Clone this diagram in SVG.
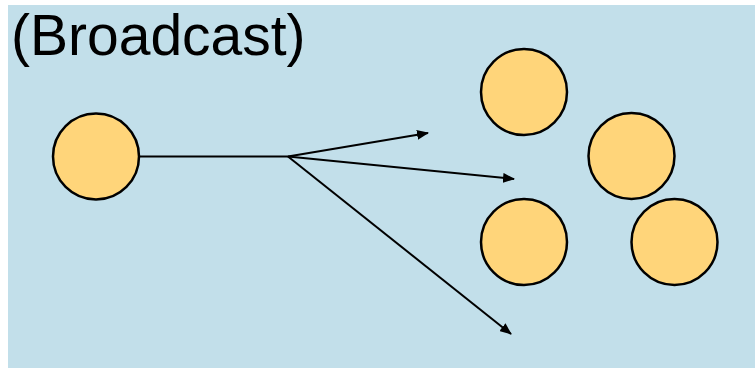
<svg xmlns="http://www.w3.org/2000/svg" width="755" height="368" viewBox="0 0 755 368">
  <style>
    .node { fill: #FFD57A; stroke: #000; stroke-width: 2.5; }
    .edge { fill: none; stroke: #000; stroke-width: 2; }
    .title { font-family: "Liberation Sans", Arial, sans-serif; font-size: 57px; fill: #000; }
  </style>
  <defs>
    <marker id="arrow" viewBox="0 0 12 10" refX="11" refY="5" markerWidth="12" markerHeight="10" markerUnits="userSpaceOnUse" orient="auto">
      <path d="M0,0 L12,5 L0,10 Z" fill="#000"/>
    </marker>
  </defs>

  <!-- panel background -->
  <rect x="8" y="5" width="747" height="363" fill="#C2DFEA"/>

  <text class="title" x="11" y="55">(Broadcast)</text>

  <!-- connectors: trunk from the sender, fanning out into three arrows -->
  <g id="connectors">
    <line class="edge" x1="139" y1="156.5" x2="288" y2="156.5"/>
    <line class="edge" x1="288" y1="156.5" x2="428" y2="133" marker-end="url(#arrow)"/>
    <line class="edge" x1="288" y1="156.5" x2="514" y2="179" marker-end="url(#arrow)"/>
    <line class="edge" x1="288" y1="156.5" x2="511" y2="334" marker-end="url(#arrow)"/>
  </g>

  <g id="sender"><circle class="node" cx="96" cy="156.5" r="43"/></g>
  <g id="receiver-1"><circle class="node" cx="524" cy="92" r="43"/></g>
  <g id="receiver-2"><circle class="node" cx="631.5" cy="156" r="43"/></g>
  <g id="receiver-3"><circle class="node" cx="524" cy="242" r="43"/></g>
  <g id="receiver-4"><circle class="node" cx="674.5" cy="242" r="43"/></g>
</svg>
